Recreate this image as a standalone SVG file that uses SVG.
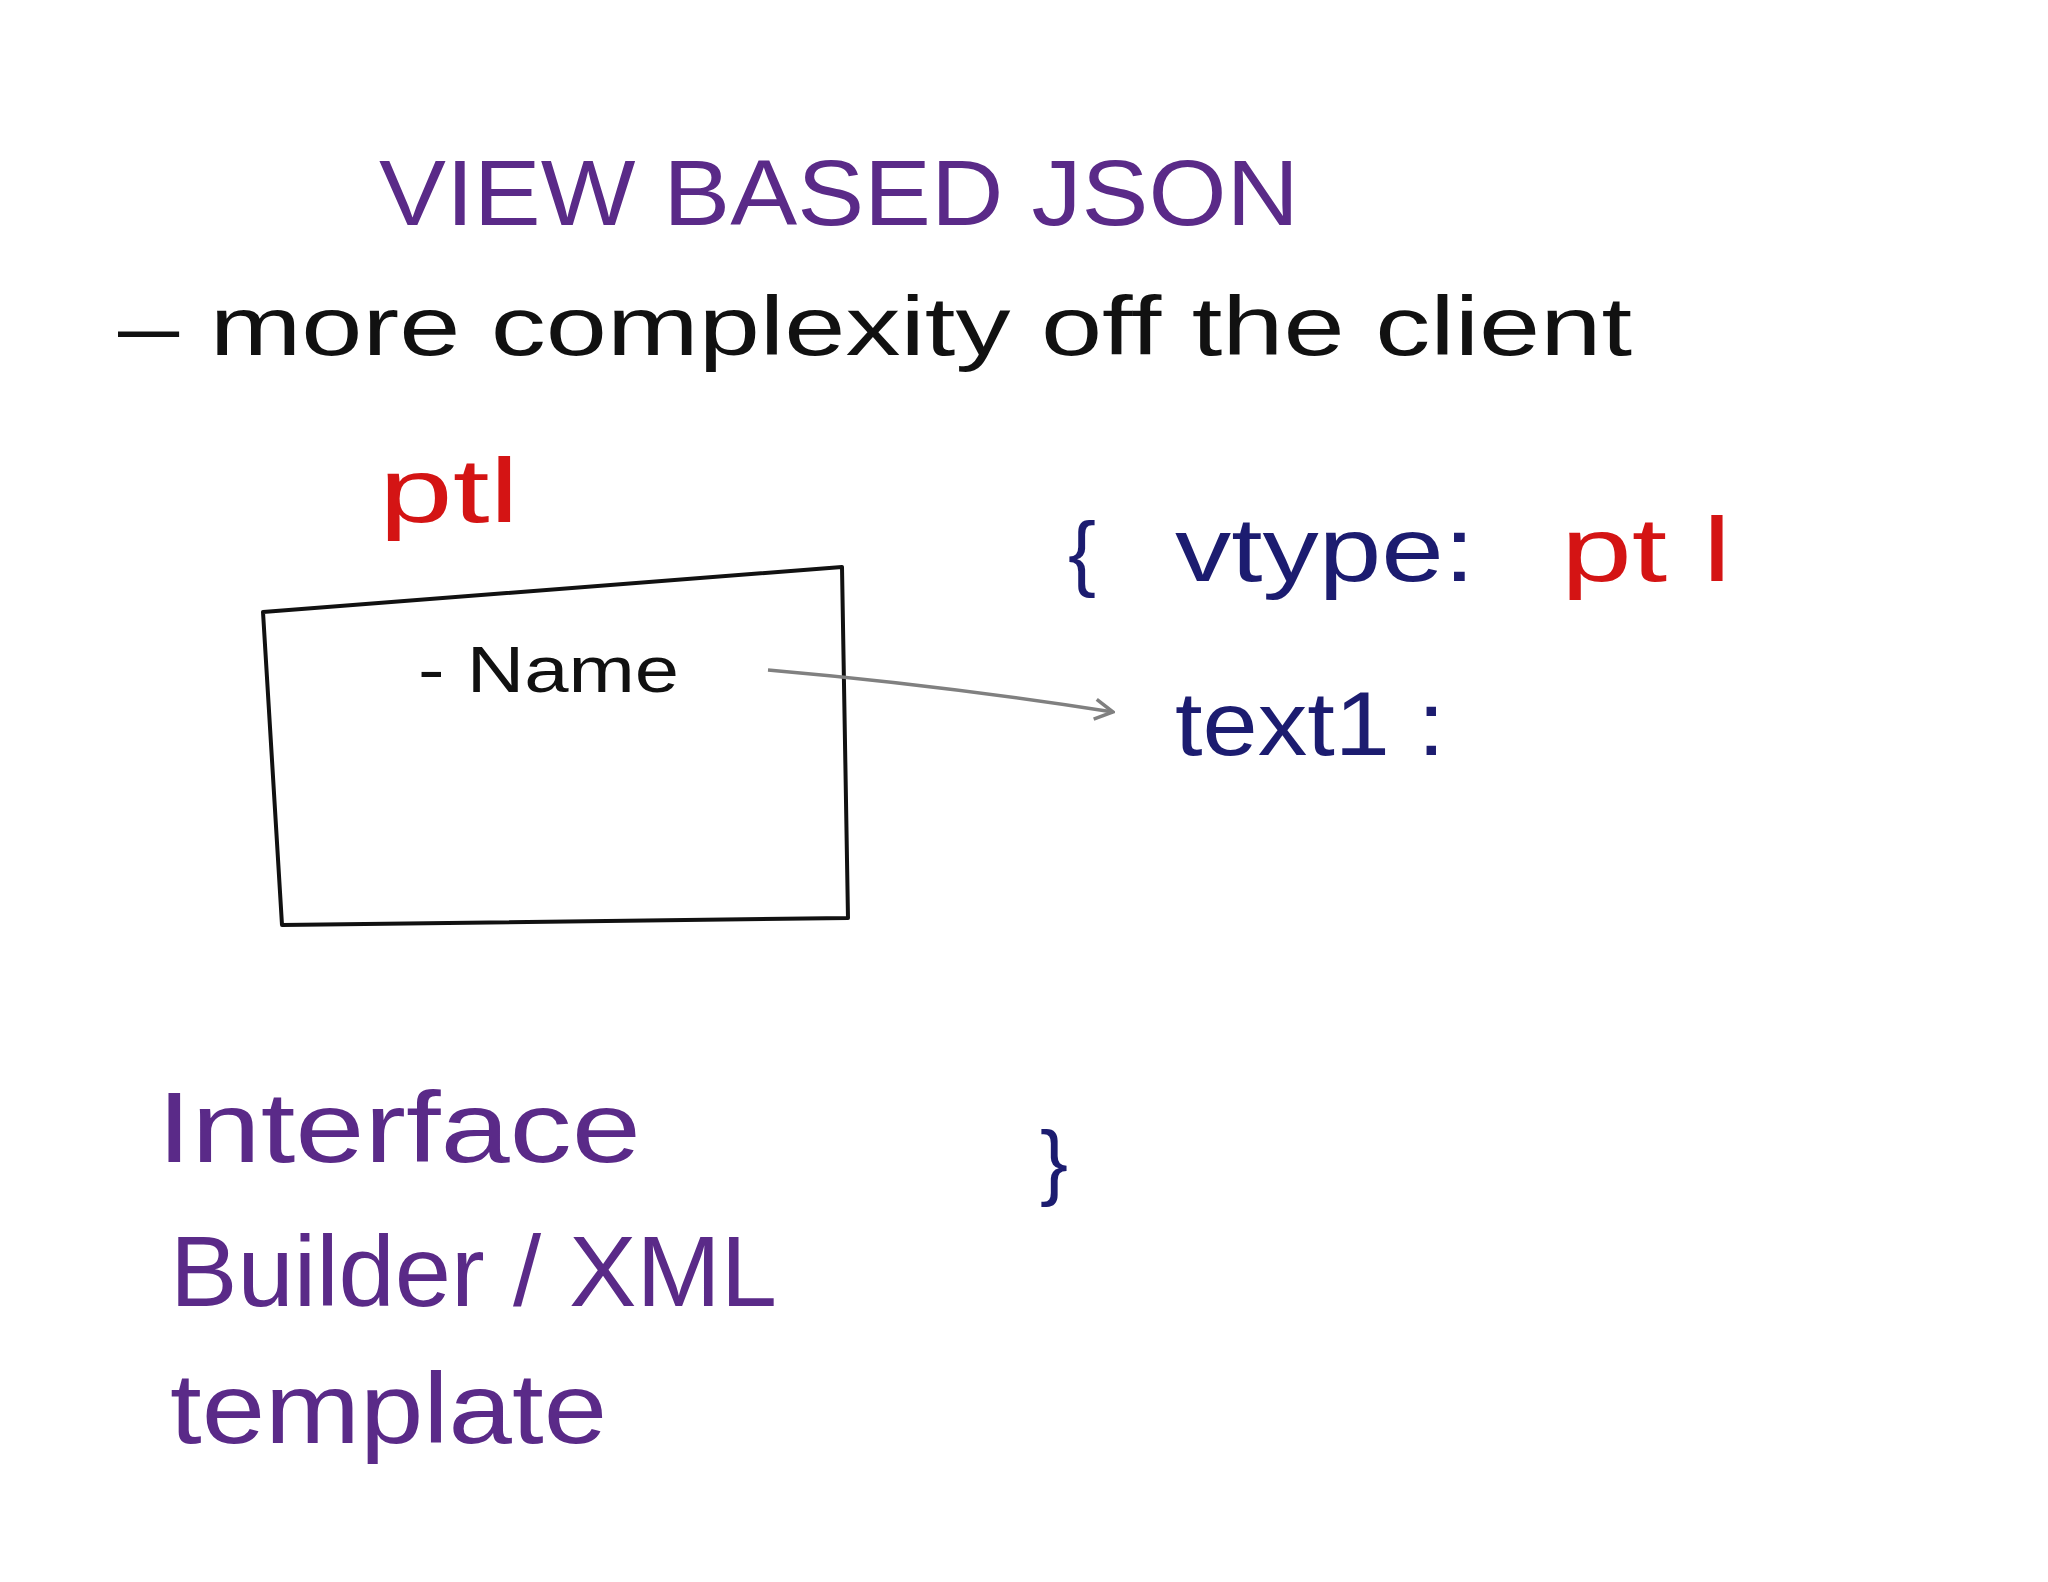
<svg xmlns="http://www.w3.org/2000/svg" width="2048" height="1582" viewBox="0 0 2048 1582">
<style>
text{font-family:"Liberation Sans",Arial,sans-serif}
.p{fill:#5a2a88}
.k{fill:#111}
.r{fill:#d41414}
.b{fill:#1c1c70}
</style>
<defs><marker id="ah" markerWidth="22" markerHeight="24" refX="20" refY="12" orient="auto" markerUnits="userSpaceOnUse"><path d="M2,2 L20,12 L2,22" fill="none" stroke="#808080" stroke-width="3.5"/></marker></defs>
<rect width="2048" height="1582" fill="#fff"/>
<g id="title"><text class="p" x="379" y="225" font-size="92" textLength="920" lengthAdjust="spacingAndGlyphs">VIEW  BASED  JSON</text></g>
<g id="subtitle"><text class="k" x="118" y="355" font-size="84" textLength="1514" lengthAdjust="spacingAndGlyphs">– more  complexity  off  the  client</text></g>
<g id="ptl-label"><text class="r" x="379" y="522" font-size="90" textLength="140" lengthAdjust="spacingAndGlyphs">ptl</text></g>
<g id="box">
<path d="M263,612 L842,567 L848,918 L282,925 Z" fill="none" stroke="#111" stroke-width="4" stroke-linejoin="round"/>
<text class="k" x="418" y="692" font-size="64" textLength="261" lengthAdjust="spacingAndGlyphs">- Name</text>
</g>
<g id="json">
<text class="b" x="1068" y="581" font-size="84">{</text>
<text class="b" x="1175" y="581" font-size="90" textLength="300" lengthAdjust="spacingAndGlyphs">vtype:</text>
<text class="r" x="1561" y="581" font-size="90" textLength="170" lengthAdjust="spacingAndGlyphs">pt l</text>
<text class="b" x="1175" y="755" font-size="90" textLength="270" lengthAdjust="spacingAndGlyphs">text1 :</text>
<text class="b" x="1040" y="1190" font-size="84">}</text>
</g>
<g id="interface">
<text class="p" x="157" y="1162" font-size="100" textLength="484" lengthAdjust="spacingAndGlyphs">Interface</text>
<text class="p" x="170" y="1306" font-size="100" textLength="607" lengthAdjust="spacingAndGlyphs">Builder / XML</text>
<text class="p" x="170" y="1443" font-size="100" textLength="437" lengthAdjust="spacingAndGlyphs">template</text>
</g>
<g id="connectors"><path d="M768,670 Q940,685 1113,712" fill="none" stroke="#808080" stroke-width="3.5" marker-end="url(#ah)"/></g>
</svg>
